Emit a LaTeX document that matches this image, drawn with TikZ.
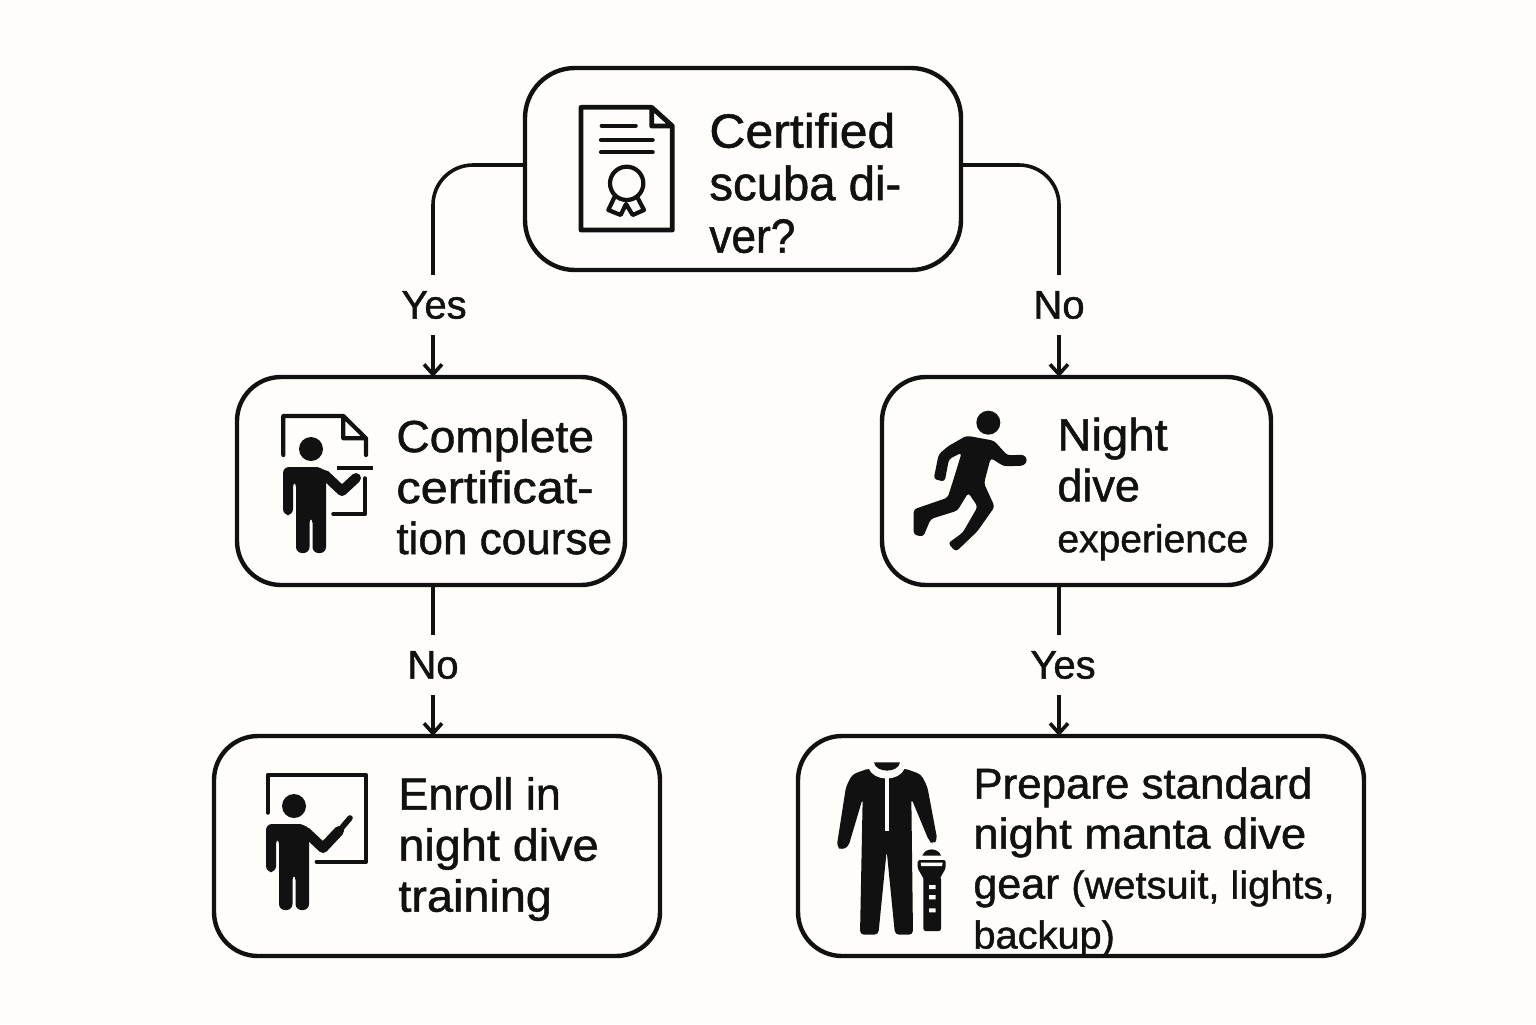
\documentclass[tikz,border=0pt]{standalone}
\usepackage{fontspec}
\setmainfont{Liberation Sans}[FakeBold=1.1]
\usetikzlibrary{arrows.meta}
\definecolor{ink}{HTML}{111111}
\definecolor{paper}{HTML}{FFFDFA}
\newcommand{\xs}[2]{\scalebox{#1}[1]{#2}}
\tikzset{
  x=0.5pt,y=-0.5pt,
  box/.style={draw=ink,line width=2.2pt,rounded corners=22pt,outer sep=0pt,inner sep=0pt},
  link/.style={draw=ink,line width=1.8pt,rounded corners=20pt,-{Straight Barb[length=5pt,width=9pt,line width=1.8pt]}},
  lab/.style={fill=paper,text=ink,inner sep=0pt,minimum height=30pt,font=\fontsize{20}{22}\selectfont},
  txt/.style={text=ink,align=left,anchor=west,inner sep=0pt},
  iconline/.style={draw=ink,line width=2.1pt,line cap=round,line join=round},
  zoomed/.style={x=0.16667pt,y=-0.16667pt},
}
\newcommand{\personbody}{%
  \fill[ink,rounded corners=3pt] (-28,18) -- (11,18) -- (15,24) -- (15,104) -- (1.5,104) -- (1.5,68) -- (-1.5,68) -- (-1.5,104) -- (-15,104) -- (-15,32) -- (-18,32) -- (-18,66) -- (-28,66) -- cycle;
  \fill[ink] (0,0) circle[radius=12];
}
\begin{document}
\begin{tikzpicture}
\useasboundingbox[fill=paper] (0,0) rectangle (1536,1024);
% boxes
\node[box,rounded corners=25pt,minimum width=218pt,minimum height=101pt] (top) at (743,169) {};
\node[box,minimum width=194pt,minimum height=104pt] (ml) at (431,481) {};
\node[box,minimum width=194.5pt,minimum height=104pt] (mr) at (1076.5,481) {};
\node[box,minimum width=223pt,minimum height=110pt] (bl) at (437,846) {};
\node[box,minimum width=283pt,minimum height=110pt] (br) at (1081,846) {};
\coordinate (xl) at (433,0);
\coordinate (xr) at (1059,0);
% connectors
\draw[link] ([yshift=2pt]top.west) -| (ml.north -| xl);
\draw[link] ([yshift=2pt]top.east) -| (mr.north -| xr);
\draw[link] (ml.south -| xl) -- (bl.north -| xl);
\draw[link] (mr.south -| xr) -- (br.north -| xr);
% labels
\node[lab,minimum width=36pt] (l1) at (434,305) {Yes};
\node[lab,minimum width=30pt] (l2) at (1059,305) {No};
\node[lab,minimum width=30pt] (l3) at (433,665) {No};
\node[lab,minimum width=36pt] (l4) at (1063,665) {Yes};
% texts
\node[txt,font=\fontsize{24}{26.25}\selectfont] (t1) at (709,183) {\xs{1.04}{Certified}\\\xs{.985}{scuba di-}\\\xs{.92}{ver?}};
\node[txt,font=\fontsize{22.5}{25.5}\selectfont] (t2) at (396,487) {\xs{1.026}{Complete}\\\xs{1.08}{certificat-}\\\xs{.98}{tion course}};
\node[txt,font=\fontsize{22.5}{25.5}\selectfont] (t3) at (1057,489) {\xs{1.05}{Night}\\dive\\{\fontsize{19.5}{25}\selectfont experience}};
\node[txt,font=\fontsize{22.5}{25.5}\selectfont] (t4) at (398,849) {Enroll in\\\xs{1.04}{night dive}\\\xs{1.04}{training}};
\node[txt,font=\fontsize{21.5}{25}\selectfont] (t5) at (973,862) {\xs{1.02}{Prepare standard}\\\xs{1.055}{night manta dive}\\gear {\fontsize{19.5}{25}\selectfont\xs{1.02}{(wetsuit, lights,}}\\{\fontsize{19.5}{24.5}\selectfont\xs{1.02}{backup)}}};
% certificate icon
\begin{scope}[shift={(520,60)},zoomed]
\draw[iconline,line width=2.4pt] (395,142) -- (183,142) -- (183,510) -- (457,510) -- (457,198) -- (395,142) -- (395,198) -- (457,198);
\draw[iconline] (245,197) -- (347,197) (243,240) -- (398,240) (243,277) -- (398,277);
\draw[iconline] (320,370) circle[radius=50];
\draw[iconline] (283,412) -- (265,450) -- (302,465) -- (318,432) -- (338,465) -- (372,450) -- (352,412);
\end{scope}
% teacher 1
\begin{scope}[shift={(230,370)},zoomed]
\draw[iconline] (160,255) -- (160,138) -- (340,138) -- (408,205) -- (408,255) (340,138) -- (340,205) -- (408,205);
\draw[iconline,line cap=butt] (320,293) -- (428,293);
\draw[iconline] (405,325) -- (405,432) -- (310,432);
\end{scope}
\begin{scope}[shift={(311,449)}]
\personbody
\draw[ink,line width=5pt,line cap=round,line join=round] (14,26) -- (31,42) -- (45,29);
\end{scope}
% teacher 2
\begin{scope}[shift={(210,730)},zoomed]
\draw[iconline] (173,248) -- (173,135) -- (468,135) -- (468,395) -- (320,395);
\end{scope}
\begin{scope}[shift={(294,806)}]
\personbody
\draw[ink,line width=5pt,line cap=round,line join=round] (12,26) -- (29,42) -- (45,25);
\draw[ink,line width=2.8pt,line cap=round] (45,25) -- (56,12);
\end{scope}
% runner
\begin{scope}[shift={(880,370)},zoomed]
\fill[ink] (325,158) circle[radius=36];
\fill[ink,rounded corners=1.6pt] (260,197) -- (342,212) -- (382,256) -- (432,254) -- (443,270) -- (432,287) -- (372,289) -- (332,264) -- (312,340) -- (344,410) -- (292,484) -- (228,545) -- (204,520) -- (248,488) -- (293,410) -- (265,368) -- (232,422) -- (152,447) -- (130,500) -- (101,494) -- (101,418) -- (203,383) -- (223,320) -- (245,248) -- (207,267) -- (194,335) -- (161,327) -- (176,253) -- (205,228) -- cycle;
\end{scope}
% suit
\begin{scope}[shift={(795,730)},zoomed]
\fill[ink,rounded corners=2pt] (225,114) -- (172,133) -- (153,170) -- (125,350) -- (140,360) -- (160,350) -- (203,205) -- (195,614) -- (250,614) -- (275,362) -- (300,614) -- (354,614) -- (349,205) -- (403,335) -- (415,341) -- (427,330) -- (397,170) -- (378,133) -- (325,114) -- (275,150) -- cycle;
\fill[ink] (237,97) -- (315,97) .. controls (310,130) and (242,130) .. (237,97) -- cycle;
\draw[paper,line width=1.7pt] (225,112) .. controls (240,150) and (310,150) .. (325,112);
\draw[paper,line width=2pt] (275,140) -- (275,303);
% torch
\fill[ink] (382,377) .. controls (390,352) and (430,352) .. (438,377) -- cycle;
\fill[ink,rounded corners=.8pt] (368,390) -- (452,390) -- (452,415) -- (432,450) -- (388,450) -- (368,415) -- cycle;
\fill[paper] (377,398) -- (443,398) -- (441,408) -- (379,408) -- cycle;
\fill[ink,rounded corners=1.2pt] (385,440) -- (438,440) -- (438,603) -- (385,603) -- cycle;
\fill[paper] (402,465) rectangle (422,477) (402,495) rectangle (422,508) (402,535) rectangle (422,547);
\end{scope}
\end{tikzpicture}
\end{document}
